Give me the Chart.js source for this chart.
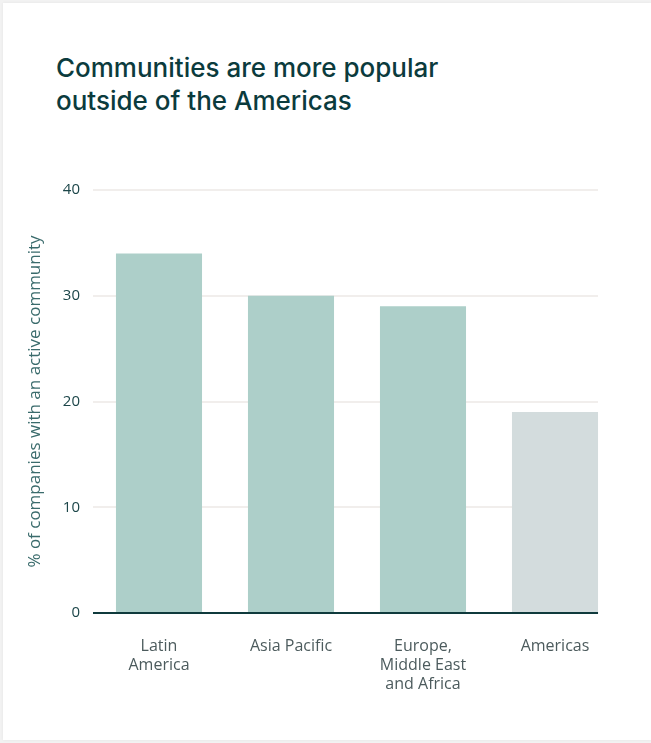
<!DOCTYPE html>
<html>
<head>
<meta charset="utf-8">
<script src="https://cdn.jsdelivr.net/npm/chart.js@4"></script>
<style>
  html, body { margin: 0; padding: 0; }
  body { width: 651px; height: 743px; background: #f2f2f2; position: relative; overflow: hidden; }
  #card { position: absolute; left: 3px; top: 3px; width: 648px; height: 737px; background: #fff; box-shadow: 0 0 3px rgba(0,0,0,0.06); }
  #title { position: absolute; left: 56px; top: 51px; margin: 0; font-family: Inter, sans-serif; font-weight: 500; font-size: 26px; line-height: 33px; color: #0b3b3d; }
  #wrap { position: absolute; left: 0; top: 0; width: 651px; height: 743px; }
</style>
</head>
<body>
<div id="card"></div>
<h1 id="title">Communities are more popular<br>outside of the Americas</h1>
<div id="wrap"><canvas id="chart"></canvas></div>
<script>
// data
var regions = [['Latin', 'America'], 'Asia Pacific', ['Europe,', 'Middle East', 'and Africa'], 'Americas'];
var shares = [34, 30, 29, 19];
var barColors = ['#adcfc9', '#adcfc9', '#adcfc9', '#d3dcdd'];
var yTicks = [0, 10, 20, 30, 40];

// grid lines + zero line, stopping at the last bar like the original
var gridPlugin = {
	id: 'gridPlugin',
	beforeDatasetsDraw: function(chart) {
		var ctx = chart.ctx;
		var y = chart.scales.y;
		var bars = chart.getDatasetMeta(0).data;
		var last = bars[bars.length - 1];
		var right = last.x + last.width / 2;
		ctx.save();
		ctx.strokeStyle = '#f1eeec';
		ctx.lineWidth = 2;
		for (var i = 1; i < yTicks.length; i++) {
			var py = Math.round(y.getPixelForValue(yTicks[i]));
			ctx.beginPath();
			ctx.moveTo(chart.chartArea.left, py);
			ctx.lineTo(right, py);
			ctx.stroke();
		}
		ctx.restore();
	},
	afterDatasetsDraw: function(chart) {
		var ctx = chart.ctx;
		var y = chart.scales.y;
		var bars = chart.getDatasetMeta(0).data;
		var last = bars[bars.length - 1];
		var right = last.x + last.width / 2;
		var py = y.getPixelForValue(0);
		ctx.save();
		ctx.strokeStyle = '#0f3a3c';
		ctx.lineWidth = 2;
		ctx.beginPath();
		ctx.moveTo(chart.chartArea.left, py);
		ctx.lineTo(right, py);
		ctx.stroke();
		ctx.restore();
	}
};

var ctx = document.getElementById('chart').getContext('2d');

new Chart(ctx, {
	type: 'bar',
	data: {
		labels: regions,
		datasets: [{
			data: shares,
			backgroundColor: barColors,
			borderWidth: 0,
			categoryPercentage: 1,
			barPercentage: 0.652
		}]
	},
	options: {
		responsive: true,
		maintainAspectRatio: false,
		animation: false,
		layout: { padding: { left: 22, right: 30, top: 190, bottom: 0 } },
		plugins: {
			legend: { display: false },
			tooltip: { enabled: false }
		},
		scales: {
			x: {
				grid: { display: false, drawTicks: false },
				border: { display: false },
				ticks: {
					padding: 24,
					color: '#4c5b5d',
					maxRotation: 0,
					autoSkip: false,
					font: { family: '"Open Sans", sans-serif', size: 16, lineHeight: 1.19 }
				},
				afterFit: function(s) { s.height = 130; }
			},
			y: {
				min: 0,
				max: 40,
				grid: { display: false, drawTicks: false },
				border: { display: false },
				ticks: {
					stepSize: 10,
					padding: 13,
					color: '#1c4649',
					font: { family: '"Open Sans", sans-serif', size: 15 }
				},
				title: {
					display: true,
					text: '% of companies with an active community',
					color: '#3a6b6c',
					font: { family: '"Open Sans", sans-serif', size: 17 },
					padding: { top: 3, bottom: 0 }
				},
				afterFit: function(s) { s.width = 71; }
			}
		}
	},
	plugins: [gridPlugin]
});
</script>
</body>
</html>
